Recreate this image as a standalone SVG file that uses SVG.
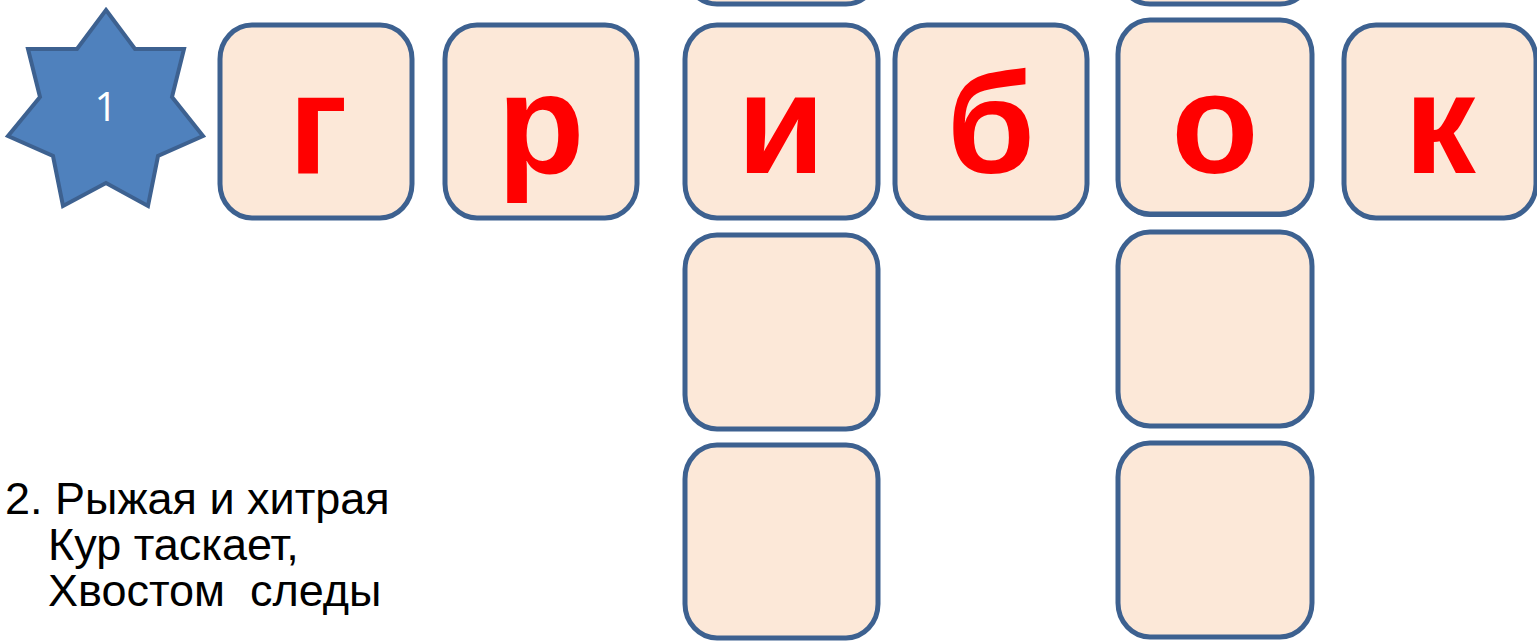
<svg xmlns="http://www.w3.org/2000/svg" width="1537" height="641" viewBox="0 0 1537 641">
<style>
.box{fill:#fce8d8;stroke:#3d6190;stroke-width:5}
.shadow{fill:#3d6190}
.letter{font-family:"Liberation Sans",Arial,sans-serif;font-weight:bold;font-size:143px;fill:#ff0000;text-anchor:middle}
.clue{font-family:"Liberation Sans",Arial,sans-serif;font-size:45px;fill:#000}
.num{font-family:"Open Sans","Liberation Sans",sans-serif;font-size:40px;fill:#ffffff;text-anchor:middle}
</style>
<rect width="1537" height="641" fill="#ffffff"/>
<g id="star1">
<polygon points="106,10 135,49 184,49 172,97 203,136 158,156 148,206 106,183 63,206 53,156 8,136 40,97 28,49 77,49" fill="#4f81bd" stroke="#3d6190" stroke-width="4" stroke-linejoin="miter"/>
<text class="num" x="106" y="121">1</text>
</g>
<g id="top-i-above"><rect class="box" x="685" y="-190" width="193" height="194" rx="32" ry="34"/></g>
<g id="top-o-above"><rect class="box" x="1118" y="-190" width="194" height="194" rx="32" ry="34"/></g>
<g id="cell-g"><rect class="box" x="220" y="25" width="192" height="193" rx="32" ry="34"/><text class="letter" x="318" y="173">г</text></g>
<g id="cell-r"><rect class="box" x="445" y="25" width="192" height="193" rx="32" ry="34"/><text class="letter" x="541" y="173">р</text></g>
<g id="cell-i"><rect class="box" x="685" y="25" width="193" height="193" rx="32" ry="34"/><text class="letter" x="781" y="173">и</text></g>
<g id="cell-b"><rect class="box" x="895" y="25" width="192" height="193" rx="32" ry="34"/><text class="letter" x="991" y="173">б</text></g>
<g id="cell-o"><rect class="shadow" x="1118" y="23" width="194" height="194" rx="32" ry="34"/><rect class="box" x="1118" y="20" width="194" height="194" rx="32" ry="34"/><text class="letter" x="1215" y="173">о</text></g>
<g id="cell-k"><rect class="box" x="1344" y="25" width="192" height="193" rx="32" ry="34"/><text class="letter" x="1440" y="173">к</text></g>
<g id="cell-i2"><rect class="box" x="685" y="235" width="193" height="194" rx="32" ry="34"/></g>
<g id="cell-i3"><rect class="box" x="685" y="445" width="193" height="193" rx="32" ry="34"/></g>
<g id="cell-o2"><rect class="shadow" x="1118" y="234" width="194" height="194" rx="32" ry="34"/><rect class="box" x="1118" y="232" width="194" height="194" rx="32" ry="34"/></g>
<g id="cell-o3"><rect class="shadow" x="1118" y="445" width="194" height="194" rx="32" ry="34"/><rect class="box" x="1118" y="443" width="194" height="194" rx="32" ry="34"/></g>
<g id="clue2">
<text class="clue" xml:space="preserve"><tspan x="5" y="514">2. Рыжая и хитрая</tspan><tspan x="48" y="560">Кур таскает,</tspan><tspan x="48" y="606">Хвостом  следы</tspan></text>
</g>
</svg>
